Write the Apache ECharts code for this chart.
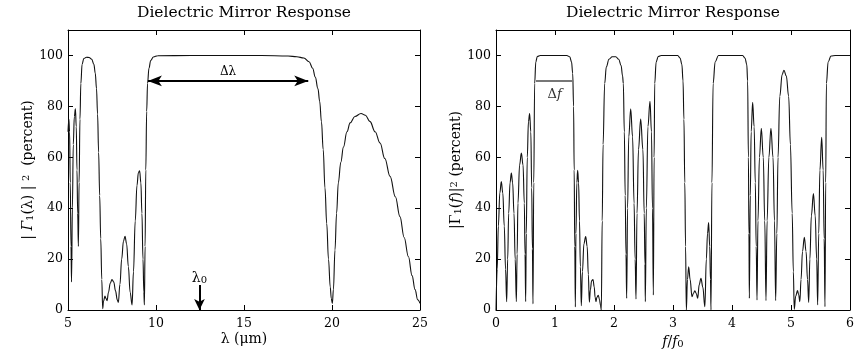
<!DOCTYPE html>
<html><head><meta charset="utf-8">
<script src="https://cdn.jsdelivr.net/npm/echarts@6/dist/echarts.min.js"></script>
<style>html,body{margin:0;padding:0;background:#fff}#c{width:865px;height:352px}</style>
</head><body><div id="c"></div>
<script>
// ---- Left panel: reflectance vs wavelength (um) ----
const leftLambda = [5.00,5.05,5.09,5.13,5.17,5.20,5.25,5.30,5.36,5.42,5.47,5.51,5.55,5.59,5.63,5.68,5.73,5.80,5.90,6.05,6.20,6.35,6.47,6.55,6.62,6.68,6.74,6.80,6.86,6.92,6.97,
  7.02,7.10,7.16,7.22,7.30,7.40,7.50,7.60,7.70,7.80,7.86,7.95,8.05,8.15,8.24,8.33,8.43,8.53,8.64,8.72,8.82,8.92,9.00,9.07,9.14,9.20,9.26,9.31,9.34,
  9.38,9.42,9.47,9.52,9.60,9.70,9.85,10.10,12.00,16.00,17.50,18.00,18.40,18.70,18.90,19.05,19.20,19.30,19.40,19.50,19.60,19.70,19.80,19.90,19.96,20.02,
  20.08,20.17,20.26,20.36,20.50,20.65,20.85,21.03,21.30,21.65,21.90,22.16,22.45,22.73,23.00,23.30,23.60,23.86,24.10,24.34,24.55,24.72,24.87,25.00];
const leftGamma = [70,75,70,50,25,11,40,65,76,79,72,55,38,25,50,75,89,96.5,98.8,99.3,99.2,98.5,96.5,93,87,77,62,45,28,12,0.5,
  3.5,5.5,4.5,3.7,7,10.5,12,11,7.5,4,3,10,20,27,29,26,17,7,2,15,35,49,54,54.7,50,38,20,7,2,
  25,55,78,89,95,98,99.4,99.9,100,100,99.8,99.5,99,97.5,95,91.5,87,82,74,63,48,34,20,9,4.5,2.6,
  8,23.6,38,50,58,64,70,73.5,76,77.2,76.5,74,70,65.6,59.5,52.5,44.5,36.7,28.5,21,13.5,8,4,2.6];

// ---- Right panel: reflectance vs normalized frequency ----
const rightFreq = [0.000,0.020,0.040,0.065,0.090,0.115,0.140,0.162,0.181,0.198,0.215,0.238,0.260,0.282,0.305,0.325,0.345,0.358,0.372,0.400,0.430,0.458,0.480,0.492,0.503,
  0.513,0.530,0.550,0.570,0.590,0.605,0.617,0.627,0.640,0.655,0.675,0.700,0.750,1.200,1.250,1.280,1.300,1.315,1.325,1.335,1.345,1.355,1.370,1.384,1.400,1.415,1.430,1.446,
  1.465,1.490,1.520,1.545,1.565,1.582,1.600,1.620,1.644,1.665,1.680,1.695,1.710,1.734,1.755,1.770,1.785,1.800,1.815,1.842,1.870,1.915,1.970,2.030,2.080,2.120,2.145,2.158,
  2.175,2.190,2.203,2.215,2.230,2.250,2.283,2.315,2.340,2.358,2.373,2.390,2.415,2.452,2.490,2.512,2.525,2.531,2.548,2.575,2.610,2.635,2.652,2.667,2.680,2.690,2.715,2.750,
  2.800,3.080,3.120,3.150,3.170,3.185,3.200,3.213,3.226,3.245,3.266,3.290,3.322,3.345,3.370,3.395,3.418,3.445,3.474,3.505,3.540,3.565,3.585,3.604,3.622,3.635,3.644,
  3.660,3.680,3.715,3.770,4.180,4.220,4.250,4.265,4.278,4.287,4.294,4.310,4.325,4.350,4.375,4.395,4.410,4.424,4.440,4.465,4.497,4.530,4.555,4.576,4.595,4.625,4.660,
  4.695,4.720,4.740,4.760,4.780,4.810,4.850,4.880,4.920,4.960,4.990,5.020,5.040,5.055,5.080,5.110,5.130,5.150,5.170,5.195,5.226,5.255,5.280,5.300,5.320,5.345,5.380,
  5.410,5.435,5.452,5.470,5.490,5.520,5.545,5.562,5.576,5.588,5.600,5.630,5.678,5.750,6.000];
const rightGamma = [0,16,33,46,50.5,46,33,16,3.3,20,38,50,53.8,50,38,20,3.3,22,42,57,61.7,57,42,22,3.3,
  30,60,74,77.2,70,48,24,2.4,50,89,97.5,99.6,100,100,99.5,97.5,93,80,55,25,1.2,30,50,54.9,50,35,17,1.7,
  15,26,28.9,25,14,3.1,8,11.5,12,9,5,3.3,5,5.8,4,2,0,35,65,89,95.5,98.5,99.5,99.5,98.5,96,92,89,
  70,45,22,4.6,40,68,79,68,42,20,4.3,38,63,75,63,38,18,3.3,40,72,82,70,40,5.9,60,89,97.5,99.6,
  100,100,99,96.5,90,75,50,25,0,12,17,12,5.2,6.5,7.5,6.5,4.6,10,12.5,9,1.3,20,30,34.4,25,12,0,
  50,89,97.5,100,100,99,96.5,90,60,30,4.6,45,70,81.6,72,50,25,3.9,35,60,71.4,60,35,3.7,35,60,71.4,
  60,35,3.7,30,60,84,92.5,94.2,92,84,65,38,15,0.3,5.5,7.6,6,3.3,12,23,28.6,23,12,3,20,37,45.7,
  37,20,2,30,55,67.8,55,28,1.3,50,89,97.5,99.8,100,100];

// ---- Axes / ticks ----
const leftXTicks = {min: 5, max: 25, interval: 5};
const rightXTicks = {min: 0, max: 6, interval: 1};
const yTicks = {min: 0, max: 110, interval: 20};

// ---- Annotations ----
const bandLambda = [9.54, 18.65];   // Δλ arrow ends
const bandLevel = 90;
const lambda0 = 12.47, lambda0Top = 9.8;
const bandFreq = [0.678, 1.31];     // Δf line ends

const zip = (a, b) => a.map((v, i) => [v, b[i]]);
const FONT = 'DejaVu Serif';
const blk = '#000';

function xAx(grid, t, extra) {
  return Object.assign({
    type: 'value', gridIndex: grid, min: t.min, max: t.max, interval: t.interval,
    nameMoveOverlap: false,
    axisLine: {onZero: false, lineStyle: {color: blk, width: 1}},
    axisTick: {inside: true, length: 5, lineStyle: {color: blk}},
    splitLine: {show: false},
    axisLabel: {color: blk, fontFamily: FONT, fontSize: 12.5, margin: 7}
  }, extra);
}
function yAx(grid, extra) {
  return Object.assign({
    type: 'value', gridIndex: grid, min: yTicks.min, max: yTicks.max, interval: yTicks.interval,
    nameMoveOverlap: false,
    axisLine: {onZero: false, lineStyle: {color: blk, width: 1}},
    axisTick: {inside: true, length: 5, lineStyle: {color: blk}},
    splitLine: {show: false},
    axisLabel: {color: blk, fontFamily: FONT, fontSize: 12.5, margin: 5, showMaxLabel: false}
  }, extra);
}
const rich = {
  n: {fontFamily: FONT, fontSize: 14, color: blk, verticalAlign: 'middle'},
  gi: {fontFamily: FONT, fontSize: 14, color: blk, fontStyle: 'italic', verticalAlign: 'middle'},
  sub: {fontFamily: FONT, fontSize: 10, lineHeight: 10, color: blk, padding: [8, 0, 0, 0], verticalAlign: 'bottom'},
  sup: {fontFamily: FONT, fontSize: 10, lineHeight: 10, color: blk, padding: [0, 0, 8, 0], verticalAlign: 'top'}
};

const chart = echarts.init(document.getElementById('c'), null, {renderer: 'canvas'});
chart.setOption({
  animation: false,
  backgroundColor: '#fff',
  grid: [
    {left: 68, right: 445, top: 30, bottom: 42, outerBoundsMode: 'none', containLabel: false},
    {left: 496, right: 15, top: 30, bottom: 42, outerBoundsMode: 'none', containLabel: false}
  ],
  graphic: [
    {type: 'text', x: 244, y: 13, style: {text: 'Dielectric Mirror Response', font: '15.5px "DejaVu Serif"', fill: blk, textAlign: 'center', textVerticalAlign: 'middle'}},
    {type: 'text', x: 673, y: 13, style: {text: 'Dielectric Mirror Response', font: '15.5px "DejaVu Serif"', fill: blk, textAlign: 'center', textVerticalAlign: 'middle'}}
  ],
  xAxis: [
    xAx(0, leftXTicks, {position: 'bottom', name: 'λ (μm)', nameLocation: 'middle', nameGap: 22,
      nameTextStyle: {fontFamily: FONT, fontSize: 14, color: blk}}),
    xAx(0, leftXTicks, {position: 'top', axisLabel: {show: false}}),
    xAx(1, rightXTicks, {position: 'bottom', name: '{gi|f}{n|/}{gi|f}{sub|0}', nameLocation: 'middle', nameGap: 25,
      nameTextStyle: {rich: rich}}),
    xAx(1, rightXTicks, {position: 'top', axisLabel: {show: false}})
  ],
  yAxis: [
    yAx(0, {position: 'left', name: '{n|| }{gi|Γ}{sub|1}{n|(λ) | }{sup|2}{n|  (percent)}', nameLocation: 'middle', nameGap: 33,
      nameTextStyle: {rich: rich}}),
    yAx(0, {position: 'right', axisLabel: {show: false}}),
    yAx(1, {position: 'left', name: '{n||}{n|Γ}{sub|1}{n|(}{gi|f}{n|)|}{sup|2}{n| (percent)}', nameLocation: 'middle', nameGap: 33,
      nameTextStyle: {rich: rich}}),
    yAx(1, {position: 'right', axisLabel: {show: false}})
  ],
  series: [
    {
      type: 'line', xAxisIndex: 0, yAxisIndex: 0, data: zip(leftLambda, leftGamma),
      showSymbol: false, smooth: 0.4, smoothMonotone: 'x',
      lineStyle: {color: '#111', width: 1.1}, silent: true,
      markLine: {
        silent: true, animation: false,
        data: [
          [
            {coord: [bandLambda[0], bandLevel], symbol: 'arrow', symbolSize: [8, 14],
              lineStyle: {color: blk, width: 2, type: 'solid'},
              label: {show: true, position: 'insideMiddleTop', formatter: 'Δλ', fontFamily: FONT, fontSize: 12, color: blk, distance: 3}},
            {coord: [bandLambda[1], bandLevel], symbol: 'arrow', symbolSize: [8, 14]}
          ],
          [
            {coord: [lambda0, lambda0Top], symbol: 'none',
              lineStyle: {color: blk, width: 2, type: 'solid'},
              label: {show: true, position: 'start', formatter: '{n|λ}{sub|0}', rich: rich, distance: 0}},
            {coord: [lambda0, 0], symbol: 'arrow', symbolSize: [8, 11]}
          ]
        ]
      }
    },
    {
      type: 'line', xAxisIndex: 2, yAxisIndex: 2, data: zip(rightFreq, rightGamma),
      showSymbol: false, smooth: 0.4, smoothMonotone: 'x',
      lineStyle: {color: '#111', width: 1.1}, silent: true,
      markLine: {
        silent: true, animation: false, symbol: 'none',
        data: [
          [
            {coord: [bandFreq[0], bandLevel],
              lineStyle: {color: '#777', width: 2, type: 'solid'},
              label: {show: true, position: 'insideMiddleBottom', formatter: 'Δ{gi|f}',
                fontFamily: FONT, fontSize: 13, color: '#333', distance: 7,
                rich: {gi: {fontFamily: FONT, fontSize: 13, fontStyle: 'italic', color: '#333'}}}},
            {coord: [bandFreq[1], bandLevel]}
          ]
        ]
      }
    }
  ]
});
</script>
</body></html>
